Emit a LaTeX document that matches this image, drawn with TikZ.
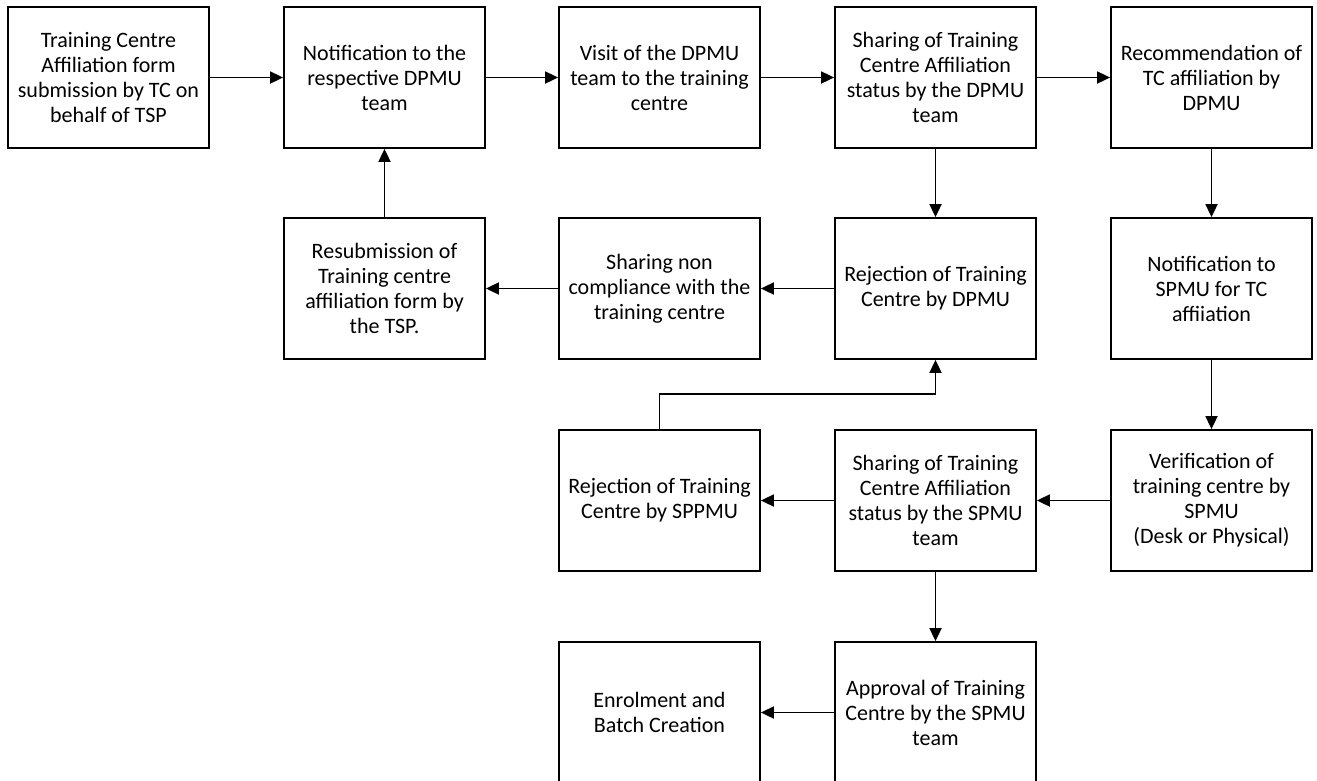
\documentclass[tikz,border=0pt]{standalone}
\usepackage{fontspec}
\setmainfont{Carlito}
\usetikzlibrary{arrows.meta}
\begin{document}
\begin{tikzpicture}[x=1pt,y=1pt,
  stepbox/.style={draw=black, line width=1.8pt, fill=white,
    minimum width=201pt, minimum height=141pt, inner sep=0pt,
    align=center, font=\fontsize{22}{25}\selectfont},
  flow/.style={line width=1.8pt, -{Triangle[length=13pt,width=12pt]}}]
% page frame
\clip (0,0) rectangle (1317,-780);
\fill[white] (0,0) rectangle (1317,-780);

% row 1
\node[stepbox] (form)  at (108.5,-77.5)  {Training Centre\\Affiliation form\\submission by TC on\\behalf of TSP};
\node[stepbox] (notd)  at (384.5,-77.5)  {Notification to the\\respective DPMU\\team};
\node[stepbox] (visit) at (659.5,-77.5)  {Visit of the DPMU\\team to the training\\centre};
\node[stepbox] (shd)   at (935.5,-77.5)  {Sharing of Training\\Centre Affiliation\\status by the DPMU\\team};
\node[stepbox] (rec)   at (1211.5,-77.5) {Recommendation of\\TC affiliation by\\DPMU};

% row 2
\node[stepbox] (resub) at (384.5,-288.5)  {Resubmission of\\Training centre\\affiliation form by\\the TSP.};
\node[stepbox] (nonc)  at (659.5,-288.5)  {Sharing non\\compliance with the\\training centre};
\node[stepbox] (rejd)  at (935.5,-288.5)  {Rejection of Training\\Centre by DPMU};
\node[stepbox] (nots)  at (1211.5,-288.5) {Notification to\\SPMU for TC\\affiiation};

% row 3
\node[stepbox] (rejs)  at (659.5,-500.5)  {Rejection of Training\\Centre by SPPMU};
\node[stepbox] (shs)   at (935.5,-500.5)  {Sharing of Training\\Centre Affiliation\\status by the SPMU\\team};
\node[stepbox] (ver)   at (1211.5,-500.5) {Verification of\\training centre by\\SPMU\\(Desk or Physical)};

% row 4
\node[stepbox] (enrol) at (659.5,-712.5)  {Enrolment and\\Batch Creation};
\node[stepbox] (appr)  at (935.5,-712.5)  {Approval of Training\\Centre by the SPMU\\team};

% connectors
\draw[flow] (form) -- (notd);
\draw[flow] (notd) -- (visit);
\draw[flow] (visit) -- (shd);
\draw[flow] (shd) -- (rec);
\draw[flow] (shd) -- (rejd);
\draw[flow] (rec) -- (nots);
\draw[flow] (rejd) -- (nonc);
\draw[flow] (nonc) -- (resub);
\draw[flow] (resub) -- (notd);
\draw[flow] (nots) -- (ver);
\draw[flow] (ver) -- (shs);
\draw[flow] (shs) -- (rejs);
\draw[flow] (shs) -- (appr);
\draw[flow] (appr) -- (enrol);
\coordinate (elbow) at (659.5,-394);
\draw[flow] (rejs.north) -- (elbow) -| (rejd.south);
\end{tikzpicture}
\end{document}
